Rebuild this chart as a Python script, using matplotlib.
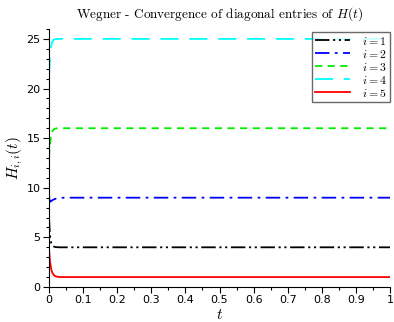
import matplotlib
matplotlib.use("Agg")
import matplotlib.pyplot as plt
from matplotlib.ticker import MultipleLocator, FuncFormatter

plt.rcParams['mathtext.fontset'] = 'cm'

t = [0.0, 0.002, 0.004, 0.006, 0.008, 0.01, 0.013, 0.016, 0.02, 0.025, 0.03, 0.04, 0.05, 0.1, 0.2, 0.3, 0.4, 0.5, 0.6, 0.7, 0.8, 0.9, 1.0]
h1 = [7.0, 5.6, 4.9, 4.5, 4.3, 4.18, 4.1, 4.05, 4.02, 4.01, 4.0, 4.0, 4.0, 4.0, 4.0, 4.0, 4.0, 4.0, 4.0, 4.0, 4.0, 4.0, 4.0]
h2 = [9.3, 8.6, 8.6, 8.65, 8.7, 8.75, 8.8, 8.85, 8.9, 8.94, 8.97, 8.99, 9.0, 9.0, 9.0, 9.0, 9.0, 9.0, 9.0, 9.0, 9.0, 9.0, 9.0]
h3 = [13.1, 14.0, 14.7, 15.2, 15.5, 15.7, 15.85, 15.93, 15.97, 15.99, 16.0, 16.0, 16.0, 16.0, 16.0, 16.0, 16.0, 16.0, 16.0, 16.0, 16.0, 16.0, 16.0]
h4 = [21.2, 22.6, 23.6, 24.2, 24.55, 24.75, 24.9, 24.95, 24.98, 25.0, 25.0, 25.0, 25.0, 25.0, 25.0, 25.0, 25.0, 25.0, 25.0, 25.0, 25.0, 25.0, 25.0]
h5 = [3.8, 2.9, 2.3, 1.9, 1.6, 1.42, 1.25, 1.15, 1.07, 1.03, 1.01, 1.0, 1.0, 1.0, 1.0, 1.0, 1.0, 1.0, 1.0, 1.0, 1.0, 1.0, 1.0]
labels = [r'$i=1$', r'$i=2$', r'$i=3$', r'$i=4$', r'$i=5$']

fig = plt.figure(figsize=(3.94, 3.22), dpi=100)
ax = fig.add_axes([0.1244, 0.1087, 0.8656, 0.8013])

ax.plot(t, h1, color='black', lw=1.3, ls=(0, (8, 2, 1.2, 2, 1.2, 2)), label=labels[0])
ax.plot(t, h2, color='blue', lw=1.3, ls=(0, (8, 3, 1.5, 3)), label=labels[1])
ax.plot(t, h3, color='#00ee00', lw=1.3, ls=(0, (4, 3)), label=labels[2])
ax.plot(t, h4, color='cyan', lw=1.3, ls=(0, (10, 6)), label=labels[3])
ax.plot(t, h5, color='red', lw=1.3, ls='-', label=labels[4])

ax.set_xlim(0, 1)
ax.set_ylim(0, 26)
ax.xaxis.set_major_locator(MultipleLocator(0.1))
ax.xaxis.set_minor_locator(MultipleLocator(0.05))
ax.yaxis.set_major_locator(MultipleLocator(5))
ax.yaxis.set_minor_locator(MultipleLocator(1))
ax.xaxis.set_major_formatter(FuncFormatter(lambda v, p: '%g' % round(v, 2)))
ax.tick_params(axis='both', which='major', direction='out', length=4, width=0.8, labelsize=8, pad=2)
ax.tick_params(axis='both', which='minor', direction='out', length=2, width=0.8)
for s in ['top', 'right']:
    ax.spines[s].set_visible(False)

ax.set_xlabel(r'$t$', fontsize=11, labelpad=1)
ax.set_ylabel(r'$H_{i,i}(t)$', fontsize=11, labelpad=1)
ax.set_title(r'Wegner - Convergence of diagonal entries of $H(t)$', fontsize=9.5,
             fontfamily='cmr10', pad=8)

leg = ax.legend(loc='upper right', fontsize=8.5, frameon=True, fancybox=False,
                handlelength=3.0, borderpad=0.25, labelspacing=0.0, handletextpad=1.0,
                borderaxespad=0.0, bbox_to_anchor=(1.0, 0.99))
leg.get_frame().set_edgecolor('#444444')
leg.get_frame().set_linewidth(1.0)

fig.savefig('out.png', dpi=100)
